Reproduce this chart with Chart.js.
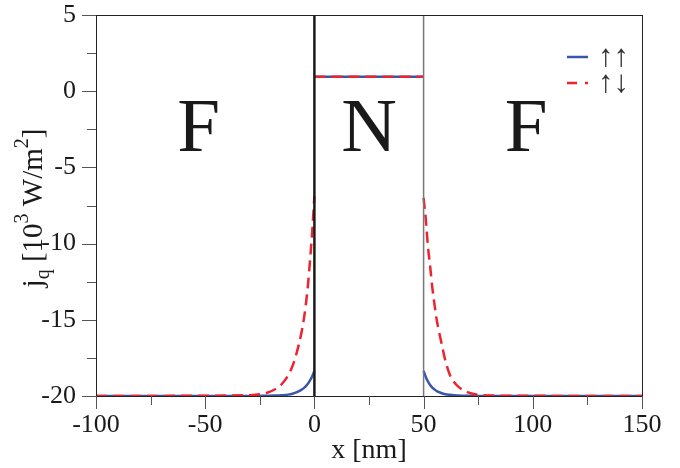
<!DOCTYPE html>
<html>
<head>
<meta charset="utf-8">
<script src="https://cdn.jsdelivr.net/npm/chart.js@4"></script>
<style>
  html, body { margin: 0; padding: 0; background: #fff; }
  canvas { display: block; }
</style>
</head>
<body>
<canvas id="chart" width="680" height="468"></canvas>
<script>
// left F layer (x < 0)
const xLeft = [-100, -30, -26, -22, -18, -15, -12, -10, -8, -6, -5, -4, -3, -2, -1, 0];
const upUpLeft = [-20, -20, -19.99, -19.98, -19.97, -19.95, -19.91, -19.85, -19.75, -19.6, -19.5, -19.37, -19.2, -18.98, -18.7, -18.35];
const upDownLeft = [-20, -19.95, -19.9, -19.8, -19.56, -19.23, -18.64, -18.02, -17.11, -15.9, -15.1, -14.1, -12.8, -11.1, -9.2, -6.9];

// N layer
const xMid = [0, 50];
const upUpMid = [0.95, 0.95];
const upDownMid = [0.95, 0.95];

// right F layer (x > 50)
const xRight = [50, 51, 52, 53, 54, 55, 56, 58, 60, 62, 64, 66, 70, 75, 80, 150];
const upUpRight = [-18.35, -18.75, -19.05, -19.28, -19.45, -19.57, -19.68, -19.8, -19.88, -19.92, -19.95, -19.97, -19.99, -20, -20, -20];
const upDownRight = [-7.0, -8.4, -10.2, -11.5, -12.9, -14.0, -15.0, -16.4, -17.7, -18.6, -19.1, -19.4, -19.75, -19.92, -19.97, -20];

// interfaces
const interfaceX = [0, 50];
const interfaceY = [-20, 5];

const layerLabels = ["F", "N", "F"];
const layerX = [-53, 25, 97];
const layerY = -3.9;

const legendLabels = ["↑↑", "↑↓"];

const BLUE = "#3a56a8";
const RED = "#ee2330";
const SERIF = "'Liberation Serif', 'Times New Roman', serif";

const pts = (xs, ys) => xs.map((x, i) => ({ x: x, y: ys[i] }));

const upUpStyle = {
  borderColor: BLUE,
  borderWidth: 2.5,
  pointRadius: 0,
  cubicInterpolationMode: "monotone",
  order: 2,
};

const upDownStyle = {
  borderColor: RED,
  borderWidth: 2.5,
  borderDash: [11, 6],
  pointRadius: 0,
  cubicInterpolationMode: "monotone",
  order: 1,
};

const datasets = [
  { ...upUpStyle, data: pts(xLeft, upUpLeft) },
  { ...upUpStyle, data: pts(xMid, upUpMid) },
  { ...upUpStyle, data: pts(xRight, upUpRight) },
  { ...upDownStyle, data: pts(xLeft, upDownLeft) },
  { ...upDownStyle, data: pts(xMid, upDownMid) },
  { ...upDownStyle, data: pts(xRight, upDownRight) },
  {
    data: pts([interfaceX[0], interfaceX[0]], interfaceY),
    borderColor: "#1a1a1a",
    borderWidth: 2.5,
    pointRadius: 0,
    order: 0,
  },
  {
    data: pts([interfaceX[1], interfaceX[1]], interfaceY),
    borderColor: "#777",
    borderWidth: 1.5,
    pointRadius: 0,
    order: 0,
  },
];

// frame, tick marks, layer letters, legend and y title
const decorPlugin = {
  id: "decor",
  afterDraw(chart) {
    const { ctx, chartArea: a, scales: { x, y } } = chart;
    ctx.save();

    ctx.strokeStyle = "#222";
    ctx.lineWidth = 1;
    ctx.strokeRect(a.left + 0.5, a.top + 0.5, a.right - a.left, a.bottom - a.top);

    ctx.strokeStyle = "#555";
    ctx.beginPath();
    y.ticks.forEach((t) => {
      const py = Math.round(y.getPixelForValue(t.value)) + 0.5;
      const len = t.value % 5 === 0 ? 14 : 9;
      ctx.moveTo(a.left - len, py);
      ctx.lineTo(a.left, py);
    });
    x.ticks.forEach((t) => {
      const px = Math.round(x.getPixelForValue(t.value)) + 0.5;
      const len = t.value % 50 === 0 ? 13 : 9;
      ctx.moveTo(px, a.bottom);
      ctx.lineTo(px, a.bottom + len);
    });
    ctx.stroke();

    // F / N / F
    ctx.fillStyle = "#1a1a1a";
    ctx.font = `77px ${SERIF}`;
    ctx.textAlign = "center";
    ctx.textBaseline = "alphabetic";
    layerLabels.forEach((s, i) => {
      ctx.fillText(s, x.getPixelForValue(layerX[i]), y.getPixelForValue(layerY));
    });

    // legend
    ctx.lineWidth = 2.5;
    ctx.strokeStyle = BLUE;
    ctx.beginPath();
    ctx.moveTo(567, 57);
    ctx.lineTo(588, 57);
    ctx.stroke();
    ctx.strokeStyle = RED;
    ctx.beginPath();
    ctx.moveTo(567, 83);
    ctx.lineTo(577, 83);
    ctx.moveTo(585, 83);
    ctx.lineTo(588, 83);
    ctx.stroke();
    ctx.fillStyle = "#333";
    ctx.font = `31px ${SERIF}`;
    ctx.textAlign = "left";
    ctx.textBaseline = "middle";
    ctx.fillText(legendLabels[0], 598, 58);
    ctx.fillText(legendLabels[1], 598, 84);

    // y title: j_q [10^3 W/m^2]
    const parts = [
      ["j", 0], ["q", 1], [" [10", 0], ["3", -1], [" W/m", 0], ["2", -1], ["]", 0],
    ];
    const big = `29px ${SERIF}`;
    const small = `20px ${SERIF}`;
    let total = 0;
    parts.forEach(([s, k]) => {
      ctx.font = k === 0 ? big : small;
      total += ctx.measureText(s).width;
    });
    ctx.translate(42, 208);
    ctx.rotate(-Math.PI / 2);
    ctx.fillStyle = "#1a1a1a";
    ctx.textBaseline = "alphabetic";
    let cx = -total / 2;
    parts.forEach(([s, k]) => {
      ctx.font = k === 0 ? big : small;
      const dy = k === 1 ? 7 : k === -1 ? -14 : 0;
      ctx.fillText(s, cx, dy);
      cx += ctx.measureText(s).width;
    });

    ctx.restore();
  },
};

new Chart(document.getElementById("chart"), {
  type: "line",
  data: { datasets: datasets },
  options: {
    responsive: false,
    animation: false,
    layout: { padding: { top: 15, right: 38, left: 0, bottom: 0 } },
    plugins: {
      legend: { display: false },
      tooltip: { enabled: false },
    },
    scales: {
      x: {
        type: "linear",
        min: -100,
        max: 150,
        afterFit: (s) => {
          s.height = 72;
          s.paddingLeft = 0;
          s.paddingRight = 0;
        },
        grid: { display: false, drawTicks: false },
        border: { display: false },
        ticks: {
          stepSize: 25,
          autoSkip: false,
          maxRotation: 0,
          padding: 14,
          color: "#1a1a1a",
          font: { family: SERIF, size: 26 },
          callback: (v) => (v % 50 === 0 ? String(v) : ""),
        },
        title: {
          display: true,
          text: "x [nm]",
          color: "#1a1a1a",
          font: { family: SERIF, size: 28 },
          padding: { top: 0, bottom: 1 },
        },
      },
      y: {
        min: -20,
        max: 5,
        afterFit: (s) => {
          s.width = 96;
          s.paddingTop = 0;
          s.paddingBottom = 0;
        },
        grid: { display: false, drawTicks: false },
        border: { display: false },
        ticks: {
          stepSize: 2.5,
          autoSkip: false,
          padding: 20,
          color: "#1a1a1a",
          font: { family: SERIF, size: 26 },
          callback: (v) => (v % 5 === 0 ? String(v) : ""),
        },
      },
    },
  },
  plugins: [decorPlugin],
});
</script>
</body>
</html>
